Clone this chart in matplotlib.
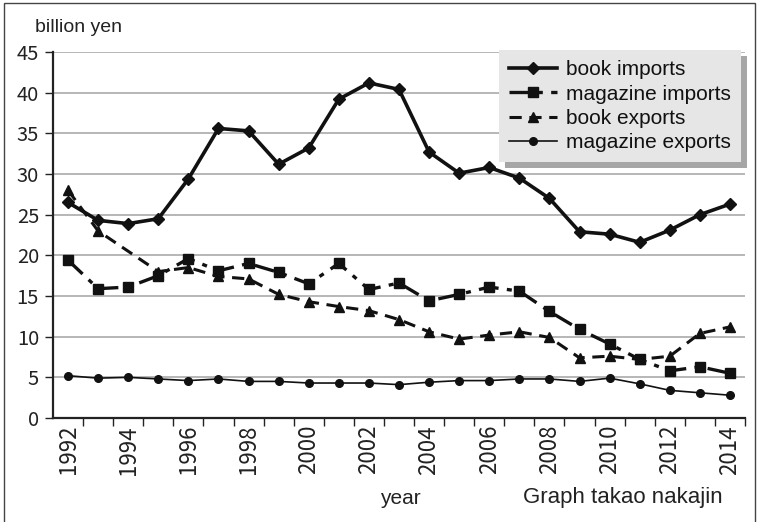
import matplotlib
matplotlib.use("Agg")
import matplotlib.pyplot as plt
from matplotlib.patches import Rectangle
from matplotlib.transforms import IdentityTransform
import numpy as np

plt.rcParams['font.family'] = ['Noto Sans CJK JP', 'DejaVu Sans']

years = list(range(1992, 2015))
book_imports = [26.5, 24.3, 23.9, 24.5, 29.4, 35.6, 35.3, 31.2, 33.2, 39.2, 41.2, 40.4,
                32.7, 30.1, 30.8, 29.5, 27.0, 22.9, 22.6, 21.6, 23.1, 25.0, 26.3]
magazine_imports = [19.4, 15.9, 16.1, 17.5, 19.6, 18.1, 19.0, 17.9, 16.5, 19.0, 15.8, 16.6,
                    14.4, 15.2, 16.1, 15.6, 13.1, 10.9, 9.1, 7.2, 5.8, 6.3, 5.5]
book_exports = [28.0, 23.0, 20.5, 18.0, 18.5, 17.4, 17.1, 15.2, 14.3, 13.7, 13.2, 12.1,
                10.6, 9.7, 10.2, 10.6, 9.9, 7.4, 7.6, 7.2, 7.6, 10.4, 11.2]
magazine_exports = [5.2, 4.9, 5.0, 4.8, 4.6, 4.8, 4.5, 4.5, 4.3, 4.3, 4.3, 4.1,
                    4.4, 4.6, 4.6, 4.8, 4.8, 4.5, 4.9, 4.2, 3.4, 3.1, 2.8]
series_names = ["book imports", "magazine imports", "book exports", "magazine exports"]
yticks = list(range(0, 50, 5))
xlabels = [str(y) for y in years[::2]]

W, H = 758, 522
fig = plt.figure(figsize=(W / 100, H / 100), dpi=100)
ax = fig.add_axes([53 / W, 1 - 418 / H, (745 - 53) / W, (418 - 52) / H])

x = np.arange(len(years))
c = '#111111'
ax.plot(x, book_imports, color=c, lw=2.6, marker='D', ms=6.5, label=series_names[0], zorder=4)
ax.plot(x, magazine_imports, color=c, lw=2.4, marker='s', ms=7, dashes=(6, 2.5, 1.5, 2.5),
        label=series_names[1], zorder=4)
bexp_marks = [i for i in range(len(years)) if i != 2]
ax.plot(x, book_exports, color=c, lw=2.2, marker='^', ms=7, dashes=(4, 2.5),
        markevery=bexp_marks, label=series_names[2], zorder=4)
ax.plot(x, magazine_exports, color=c, lw=1.2, marker='o', ms=5.5, label=series_names[3], zorder=4)

ax.set_xlim(-0.5, len(years) - 0.5)
ax.set_ylim(0, 45)
ax.set_yticks(yticks)
ax.tick_params(axis='y', labelsize=14.5, length=6, width=1, direction='out', pad=4, colors='#222222')
ax.yaxis.grid(True, color='#aaaaaa', lw=1.2)
ax.set_axisbelow(True)

ax.set_xticks(x[::2])
ax.set_xticklabels(xlabels, rotation=90, fontsize=16, color='#222222')
ax.tick_params(axis='x', which='major', length=0, pad=5)
ax.set_xticks(np.arange(-0.5, len(years), 1.0)[1:], minor=True)
ax.tick_params(axis='x', which='minor', length=6, width=1, direction='out', color='#222222')

for s in ['top', 'right']:
    ax.spines[s].set_visible(False)
for s in ['left', 'bottom']:
    ax.spines[s].set_linewidth(1.6)
    ax.spines[s].set_color('#222222')

leg = ax.legend(loc='upper right', bbox_to_anchor=(741 / W, 1 - 50 / H),
                bbox_transform=fig.transFigure, borderaxespad=0,
                prop={'family': ['Liberation Sans', 'DejaVu Sans'], 'size': 15},
                frameon=True, fancybox=False, facecolor='#e6e6e6', edgecolor='none',
                framealpha=1, labelspacing=0.25, handlelength=2.3, handletextpad=0.4,
                borderpad=0.5)
leg.set_zorder(6)
for t in leg.get_texts():
    t.set_color('#111111')

tfam = ['Liberation Sans', 'DejaVu Sans']
fig.text(35 / W, 1 - 27 / H, "billion yen", fontsize=14, va='center', ha='left', color='#222222',
         family=tfam)
fig.text(400 / W, 1 - 498 / H, "year", fontsize=15, va='center', ha='center', color='#222222',
         family=tfam)
fig.text(623 / W, 1 - 498 / H, "Graph takao nakajin", fontsize=16, va='center', ha='center',
         color='#222222', family=tfam)

fig.patches.append(Rectangle((3.5 / W, -0.05), (755 - 3.5) / W, 1.05 - 2.5 / H,
                             transform=fig.transFigure, fill=False, edgecolor='#444444',
                             lw=1.0))

fig.canvas.draw()
bb = leg.get_window_extent()
shadow = Rectangle((bb.x0 + 6, bb.y0 - 6), bb.width, bb.height, transform=IdentityTransform(),
                   facecolor='#a6a6a6', edgecolor='none', zorder=5.5, clip_on=False)
ax.add_artist(shadow)

fig.savefig("out.png", dpi=100)
